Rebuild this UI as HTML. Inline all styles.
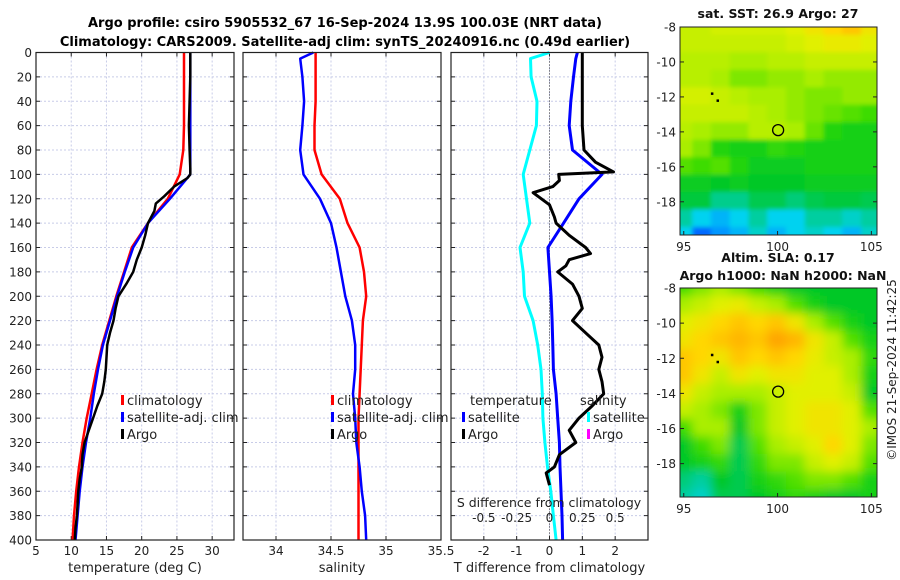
<!DOCTYPE html>
<html><head><meta charset="utf-8"><style>
html,body{margin:0;padding:0;background:#fff;}
svg{display:block;font-family:"DejaVu Sans","Liberation Sans",sans-serif;}
</style></head><body>
<svg id="fig" width="900" height="580" viewBox="0 0 900 580" xmlns="http://www.w3.org/2000/svg">
<defs>
<filter id="blur1" x="-5%" y="-5%" width="110%" height="110%"><feGaussianBlur stdDeviation="2"/></filter>
<filter id="blur2" x="-5%" y="-5%" width="110%" height="110%"><feGaussianBlur stdDeviation="5"/></filter>
<clipPath id="clipA"><rect x="680" y="27" width="197" height="208"/></clipPath>
<clipPath id="clipB"><rect x="680" y="288" width="197" height="209"/></clipPath>
</defs>
<text x="345" y="27" text-anchor="middle" font-size="13" font-weight="bold">Argo profile: csiro 5905532_67 16-Sep-2024 13.9S 100.03E (NRT data)</text>
<text x="345" y="46" text-anchor="middle" font-size="13" font-weight="bold">Climatology: CARS2009. Satellite-adj clim: synTS_20240916.nc (0.49d earlier)</text>
<g id="g"></g>
<text transform="translate(896,370) rotate(-90)" text-anchor="middle" font-size="12" fill="#222">©IMOS 21-Sep-2024 11:42:25</text>
</svg>
<script>
// ---------- data ----------
const depthTicks = [0,20,40,60,80,100,120,140,160,180,200,220,240,260,280,300,320,340,360,380,400];
const tempTicks = [5,10,15,20,25,30];
const salTicks = [34,34.5,35,35.5];
const tdiffTicks = [-2,-1,0,1,2];
const sdiffTicks = [-0.5,-0.25,0,0.25,0.5];
const climDepth = [0,20,40,60,80,100,120,140,160,180,200,220,240,260,280,300,320,340,360,380,400];
const climTemp = [26.0,26.0,26.0,26.0,25.9,25.4,23.7,20.9,18.6,17.5,16.4,15.4,14.4,13.6,12.9,12.2,11.6,11.1,10.7,10.4,10.2];
const satTemp  = [26.9,26.9,26.9,26.9,26.9,26.9,24.0,20.9,18.8,17.6,16.5,15.5,14.5,13.8,13.2,12.7,12.1,11.6,11.2,10.9,10.6];
const argoDepth = [0,20,40,60,80,95,100,103,110,118,124,130,140,150,160,170,180,190,200,210,220,230,240,250,260,270,280,290,300,310,320,330,340,350,360,370,380,390,400];
const argoTemp  = [26.9,26.9,26.8,26.7,26.8,26.9,26.9,26.5,24.6,23.2,22.0,21.8,20.9,20.5,20.0,19.3,18.8,17.8,16.7,16.3,16.0,15.5,15.1,15.0,14.9,14.7,14.4,13.7,13.1,12.5,11.9,11.6,11.5,11.2,11.0,10.9,10.8,10.6,10.5];
const salDepth = [0,5,20,40,60,80,100,120,140,160,180,200,220,240,260,280,300,320,340,360,380,400];
const climSal = [34.36,34.36,34.36,34.36,34.35,34.35,34.415,34.58,34.65,34.76,34.80,34.82,34.79,34.78,34.77,34.76,34.75,34.75,34.75,34.75,34.75,34.75];
const satSal  = [34.34,34.22,34.24,34.255,34.24,34.22,34.25,34.40,34.50,34.55,34.59,34.63,34.69,34.72,34.72,34.70,34.72,34.73,34.76,34.78,34.81,34.82];
const dDepth = [0,5,20,40,60,80,100,120,140,160,180,200,220,240,260,280,300,320,340,360,380,400];
const satTdiff = [0.85,0.8,0.73,0.65,0.6,0.7,1.6,0.9,0.43,-0.05,0.0,0.05,0.08,0.1,0.12,0.2,0.25,0.3,0.32,0.35,0.38,0.4];
const satSdiff = [0,-0.145,-0.14,-0.095,-0.1,-0.15,-0.2,-0.175,-0.15,-0.225,-0.2,-0.19,-0.125,-0.09,-0.065,-0.055,-0.05,-0.035,-0.015,0.01,0.03,0.05];
const argoDDepth = [0,20,40,60,80,90,98,100,105,110,115,125,135,140,150,160,165,170,175,180,190,200,210,220,230,240,250,260,270,280,290,300,310,320,330,340,345,355];
const argoTdiff  = [1.0,1.0,1.0,1.0,1.05,1.4,1.95,0.28,0.3,0.1,-0.5,0.0,0.15,0.2,0.6,1.1,1.25,0.6,0.5,0.25,0.7,0.9,1.0,0.7,1.1,1.5,1.6,1.5,1.6,1.65,1.3,0.9,0.6,0.8,0.3,0.15,-0.1,0.0];
// map grids: rows lat -8..-20, cols lon 95..105 (normalised colormap values)
const mapLats = [-8,-9,-10,-11,-12,-13,-14,-15,-16,-17,-18,-19,-20];
const mapLons = [95,96,97,98,99,100,101,102,103,104,105];
const sstGrid = [
[0.62,0.62,0.63,0.63,0.63,0.63,0.64,0.66,0.68,0.70,0.66],
[0.62,0.62,0.62,0.62,0.62,0.62,0.63,0.64,0.65,0.65,0.64],
[0.61,0.61,0.61,0.60,0.60,0.61,0.61,0.62,0.62,0.62,0.62],
[0.61,0.61,0.60,0.58,0.58,0.59,0.59,0.60,0.59,0.59,0.59],
[0.63,0.63,0.62,0.61,0.60,0.60,0.59,0.58,0.58,0.59,0.59],
[0.62,0.62,0.62,0.62,0.61,0.60,0.59,0.58,0.57,0.56,0.55],
[0.61,0.60,0.59,0.59,0.61,0.61,0.60,0.57,0.53,0.52,0.52],
[0.60,0.58,0.53,0.52,0.52,0.54,0.53,0.52,0.52,0.52,0.52],
[0.56,0.55,0.56,0.53,0.51,0.51,0.51,0.52,0.52,0.52,0.52],
[0.51,0.51,0.50,0.51,0.50,0.50,0.50,0.51,0.51,0.51,0.51],
[0.49,0.49,0.45,0.45,0.48,0.48,0.46,0.48,0.49,0.49,0.48],
[0.44,0.40,0.38,0.40,0.44,0.40,0.40,0.44,0.44,0.42,0.44],
[0.40,0.33,0.36,0.38,0.42,0.38,0.40,0.42,0.40,0.38,0.42]];
const slaGrid = [
[0.55,0.58,0.60,0.58,0.55,0.52,0.50,0.50,0.50,0.50,0.50],
[0.60,0.62,0.64,0.65,0.62,0.60,0.56,0.52,0.50,0.50,0.50],
[0.64,0.66,0.68,0.70,0.68,0.70,0.66,0.60,0.56,0.52,0.50],
[0.66,0.68,0.70,0.72,0.70,0.74,0.72,0.66,0.62,0.56,0.52],
[0.70,0.68,0.66,0.70,0.68,0.70,0.68,0.65,0.62,0.60,0.54],
[0.70,0.66,0.62,0.66,0.64,0.66,0.66,0.64,0.64,0.60,0.52],
[0.66,0.62,0.60,0.60,0.60,0.62,0.64,0.64,0.64,0.62,0.50],
[0.62,0.60,0.58,0.52,0.58,0.62,0.64,0.66,0.66,0.64,0.56],
[0.55,0.60,0.60,0.50,0.58,0.62,0.64,0.66,0.66,0.64,0.60],
[0.50,0.55,0.58,0.48,0.56,0.60,0.62,0.64,0.68,0.64,0.58],
[0.50,0.52,0.54,0.48,0.54,0.58,0.58,0.62,0.64,0.62,0.56],
[0.46,0.44,0.50,0.48,0.52,0.54,0.56,0.58,0.58,0.56,0.52],
[0.44,0.42,0.48,0.48,0.50,0.52,0.54,0.52,0.50,0.50,0.52]];
const latTicks = [-8,-10,-12,-14,-16,-18];
const lonTicks = [95,100,105];
const floatLon = 100.03, floatLat = -13.9;
const trackLon = [96.5,96.8], trackLat = [-11.8,-12.2];

// ---------- drawing ----------
const NS='http://www.w3.org/2000/svg';
const G=document.getElementById('g');
function mk(tag,attrs,parent){const e=document.createElementNS(NS,tag);for(const k in attrs)e.setAttribute(k,attrs[k]);(parent||G).appendChild(e);return e;}
const yTop=52.5,yBot=540;
const yD=d=>yTop+(d/400)*(yBot-yTop);
function lin(d0,d1,r0,r1){return v=>r0+(v-d0)/(d1-d0)*(r1-r0);}
const panels=[
 {name:'temperature-panel',x0:36,x1:234,sc:lin(5,33.1,36,234),ticks:tempTicks,label:'temperature (deg C)'},
 {name:'salinity-panel',x0:243,x1:441,sc:lin(33.7,35.5,243,441),ticks:salTicks,label:'salinity'},
 {name:'difference-panel',x0:451,x1:648,sc:lin(-3,3,451,648),ticks:tdiffTicks,label:'T difference from climatology'}];
const sS=lin(-0.75,0.75,451,648);
panels.forEach((p,pi)=>{
 const g=mk('g',{});
 
 
 // grid
 depthTicks.forEach(d=>{const l=mk('line',{x1:p.x0,x2:p.x1,y1:yD(d),y2:yD(d),stroke:'#c8cce8','stroke-width':1,'stroke-dasharray':'2,2'},g);
  
  mk('line',{x1:p.x0,x2:p.x0+4,y1:yD(d),y2:yD(d),stroke:'#222'},g);mk('line',{x1:p.x1,x2:p.x1-4,y1:yD(d),y2:yD(d),stroke:'#222'},g);
  if(pi===0){const t=mk('text',{x:p.x0-4,y:yD(d)+4.5,'text-anchor':'end','font-size':12,fill:'#222'},g);t.textContent=d;
   }
 });
 p.ticks.forEach(v=>{const x=p.sc(v);
  const l=mk('line',{x1:x,x2:x,y1:yTop,y2:yBot,stroke:'#c8cce8','stroke-width':1,'stroke-dasharray':'2,2'},g);
  
  mk('line',{x1:x,x2:x,y1:yBot,y2:yBot-4,stroke:'#222'},g);mk('line',{x1:x,x2:x,y1:yTop,y2:yTop+4,stroke:'#222'},g);
  const t=mk('text',{x:x,y:555,'text-anchor':'middle','font-size':12,fill:'#222'},g);t.textContent=v;
  });
 if(pi===1){const t=mk('text',{x:p.x0,y:555,'text-anchor':'middle','font-size':12,fill:'#222'},g);t.textContent='33.7';t.setAttribute('opacity','0');}
 const xl=mk('text',{x:(p.x0+p.x1)/2,y:572,'text-anchor':'middle','font-size':13,fill:'#222'},g);xl.textContent=p.label;
 
});
function line(xs,ds,sc,col,name,w){const pts=xs.map((v,i)=>sc(v).toFixed(1)+','+yD(ds[i]).toFixed(1)).join(' ');
 const e=mk('polyline',{points:pts,fill:'none',stroke:col,'stroke-width':w||2.5,'stroke-linejoin':'round'});
 }
// zero line
const zl=mk('line',{x1:panels[2].sc(0),x2:panels[2].sc(0),y1:yTop,y2:yBot,stroke:'#333','stroke-dasharray':'1,2'});

line(climTemp,climDepth,panels[0].sc,'#ff0000','clim-temp-line');
line(satTemp,climDepth,panels[0].sc,'#0000ff','sat-temp-line');
line(argoTemp,argoDepth,panels[0].sc,'#000','argo-temp-line');
line(climSal,salDepth,panels[1].sc,'#ff0000','clim-sal-line');
line(satSal,salDepth,panels[1].sc,'#0000ff','sat-sal-line');
line(satSdiff,dDepth,sS,'#00ffff','sat-sdiff-line',3);
line(satTdiff,dDepth,panels[2].sc,'#0000ff','sat-tdiff-line',3);
line(argoTdiff,argoDDepth,panels[2].sc,'#000','argo-tdiff-line',3);
// frames
panels.forEach(p=>{const r=mk('rect',{x:p.x0,y:yTop,width:p.x1-p.x0,height:yBot-yTop,fill:'none',stroke:'#222','stroke-width':1.2});
 });
// S diff axis labels
const sl=mk('text',{x:549,y:507,'text-anchor':'middle','font-size':12.5,fill:'#222'});sl.textContent='S difference from climatology';

sdiffTicks.forEach(v=>{const t=mk('text',{x:panels[2].sc(v*4),y:522,'text-anchor':'middle','font-size':12,fill:'#222'});t.textContent=v;
 });
// legends
function leg(x,y,col,txt,name){const r=mk('rect',{x:x,y:y-10,width:3,height:10,fill:col});
 const t=mk('text',{x:x+6,y:y,'font-size':13,fill:'#222'});t.textContent=txt;
 }
leg(121,405,'#ff0000','climatology','legend-climatology');
leg(121,422,'#0000ff','satellite-adj. clim','legend-satellite');
leg(121,439,'#000','Argo','legend-argo');
leg(331,405,'#ff0000','climatology','legend-climatology-2');
leg(331,422,'#0000ff','satellite-adj. clim','legend-satellite-2');
leg(331,439,'#000','Argo','legend-argo-2');
{const t=mk('text',{x:470,y:405,'font-size':13,fill:'#222'});t.textContent='temperature';}
leg(462,422,'#0000ff','satellite','legend-t-satellite');
leg(462,439,'#000','Argo','legend-t-argo');
{const t=mk('text',{x:580,y:405,'font-size':13,fill:'#222'});t.textContent='salinity';}
leg(587,422,'#00ffff','satellite','legend-s-satellite');
leg(587,439,'#ff00ff','Argo','legend-s-argo');
// colormap
const cstops=[[0.30,[0,60,255]],[0.36,[0,150,255]],[0.40,[0,210,240]],[0.45,[0,205,140]],[0.50,[0,200,40]],[0.55,[60,220,0]],[0.60,[170,238,0]],[0.64,[225,240,0]],[0.68,[255,215,0]],[0.74,[255,165,0]]];
function cmap(v){if(v<=cstops[0][0])return 'rgb('+cstops[0][1]+')';
 for(let i=1;i<cstops.length;i++){if(v<=cstops[i][0]){const a=cstops[i-1],b=cstops[i],t=(v-a[0])/(b[0]-a[0]);
  return 'rgb('+a[1].map((c,k)=>Math.round(c+(b[1][k]-c)*t)).join(',')+')';}}
 return 'rgb('+cstops[cstops.length-1][1]+')';}
function drawMap(name,grid,y0,y1,clip,blur,title1,title2){
 const xs=lin(94.8,105.3,680,877), ys=lin(-8,-19.9,y0,y1);
 const g=mk('g',{});
 const cg=mk('g',{'clip-path':'url(#'+clip+')'},g);
 const bg=mk('g',{filter:'url(#'+blur+')'},cg);
 mk('rect',{x:670,y:y0-10,width:220,height:y1-y0+20,fill:cmap(grid[12][5])},bg);
 grid.forEach((row,ri)=>row.forEach((v,ci)=>{
  const lon=mapLons[ci],lat=mapLats[ri];
  const c=mk('rect',{x:xs(lon-0.5)-1,y:ys(lat+0.5)-1,width:xs(lon+0.5)-xs(lon-0.5)+2,height:ys(lat-0.5)-ys(lat+0.5)+2,fill:cmap(v)},bg);
  
 }));
 mk('rect',{x:680,y:y0,width:197,height:y1-y0,fill:'none',stroke:'#222','stroke-width':1},g);
 latTicks.forEach(v=>{const y=ys(v);mk('line',{x1:680,x2:684,y1:y,y2:y,stroke:'#222'},g);mk('line',{x1:877,x2:873,y1:y,y2:y,stroke:'#222'},g);
  const t=mk('text',{x:676,y:y+4.5,'text-anchor':'end','font-size':12,fill:'#222'},g);t.textContent=v;
  });
 lonTicks.forEach(v=>{const x=xs(v);mk('line',{x1:x,x2:x,y1:y1,y2:y1-4,stroke:'#222'},g);
  const t=mk('text',{x:x,y:y1+16,'text-anchor':'middle','font-size':12,fill:'#222'},g);t.textContent=v;
  });
 const c=mk('circle',{cx:xs(floatLon),cy:ys(floatLat),r:5.5,fill:'none',stroke:'#000','stroke-width':1.3},g);
 
 trackLon.forEach((lo,i)=>{const d=mk('rect',{x:xs(lo)-1,y:ys(trackLat[i])-1,width:2.5,height:2.5,fill:'#000'},g);
  });
 if(title1){const t=mk('text',{x:778,y:title2?y0-26:y0-9,'text-anchor':'middle','font-size':12.5,'font-weight':'bold',fill:'#111'},g);t.textContent=title1;
  }
 if(title2){const t=mk('text',{x:783,y:y0-8,'text-anchor':'middle','font-size':12.5,'font-weight':'bold',fill:'#111'},g);t.textContent=title2;
  }
}
drawMap('sst-map',sstGrid,27,235,'clipA','blur1','sat. SST: 26.9 Argo: 27',null);
drawMap('sla-map',slaGrid,288,497,'clipB','blur2','Altim. SLA: 0.17','Argo h1000: NaN h2000: NaN');
</script>
</body></html>
